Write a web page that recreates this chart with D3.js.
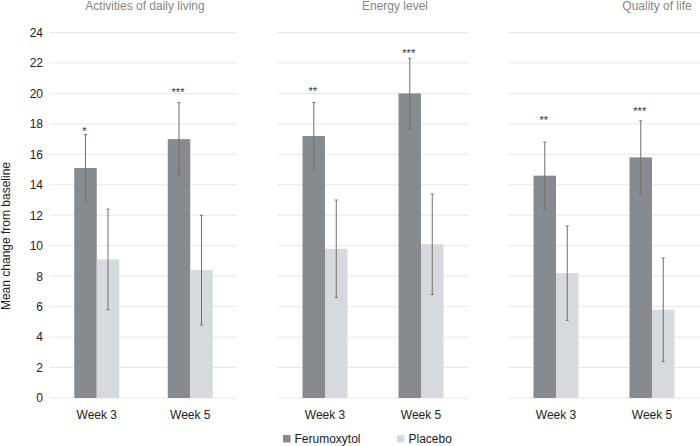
<!DOCTYPE html>
<html>
<head>
<meta charset="utf-8">
<script src="https://cdn.jsdelivr.net/npm/d3@7"></script>
<style>
  html, body { margin: 0; padding: 0; background: #fff; }
  svg { display: block; font-family: "Liberation Sans", Arial, sans-serif; }
</style>
</head>
<body>
<svg id="chart" width="700" height="446"></svg>
<script>
// ---- data ----
const panels = ["Activities of daily living", "Energy level", "Quality of life"];
const weeks = ["Week 3", "Week 5"];
const series = ["Ferumoxytol", "Placebo"];
const ferumoxytol = [[15.1, 17.0], [17.2, 20.0], [14.6, 15.8]];
const ferumoxytolErr = [[2.2, 2.4], [2.2, 2.3], [2.2, 2.4]];
const placebo = [[9.1, 8.4], [9.8, 10.1], [8.2, 5.8]];
const placeboErr = [[3.3, 3.6], [3.2, 3.3], [3.1, 3.4]];
const significance = [["*", "***"], ["**", "***"], ["**", "***"]];
const significanceLevel = [[17.3, 19.8], [19.9, 22.4], [18.0, 18.6]];
const yTicks = [0, 2, 4, 6, 8, 10, 12, 14, 16, 18, 20, 22, 24];

// ---- layout ----
const svg = d3.select("#chart");
const colors = { "Ferumoxytol": "#878b90", "Placebo": "#d6d9dd" };
const panelRanges = [[50, 237], [277, 469], [508, 700]];
const titleX = [145, 395, 657];
const barW = 22.5;

const y = d3.scaleLinear().domain([0, 24]).range([398, 32.5]);

const values = { "Ferumoxytol": ferumoxytol, "Placebo": placebo };
const errors = { "Ferumoxytol": ferumoxytolErr, "Placebo": placeboErr };

panels.forEach((title, pi) => {
  const g = svg.append("g");
  const [x0, x1] = panelRanges[pi];

  // gridlines
  g.selectAll("line.grid").data(yTicks).join("line")
    .attr("x1", x0).attr("x2", x1)
    .attr("y1", d => y(d)).attr("y2", d => y(d))
    .attr("stroke", "#e8e8e8").attr("stroke-width", 1);

  const x = d3.scaleBand().domain(weeks).range([x0, x1]);
  const xs = d3.scaleBand().domain(series)
    .range([x.bandwidth() / 2 - barW, x.bandwidth() / 2 + barW]);

  weeks.forEach((wk, wi) => {
    const wg = g.append("g").attr("transform", `translate(${x(wk)},0)`);
    series.forEach(s => {
      const v = values[s][pi][wi];
      const e = errors[s][pi][wi];
      wg.append("rect")
        .attr("x", xs(s)).attr("width", xs.bandwidth())
        .attr("y", y(v)).attr("height", y(0) - y(v))
        .attr("fill", colors[s]);
      const cx = xs(s) + xs.bandwidth() / 2;
      wg.append("line")
        .attr("x1", cx).attr("x2", cx)
        .attr("y1", y(v + e)).attr("y2", y(v - e))
        .attr("stroke", "#707070").attr("stroke-width", 1);
      [v + e, v - e].forEach(t => {
        wg.append("line")
          .attr("x1", cx - 1.5).attr("x2", cx + 1.5)
          .attr("y1", y(t)).attr("y2", y(t))
          .attr("stroke", "#707070").attr("stroke-width", 1);
      });
    });
    // significance
    wg.append("text")
      .attr("x", xs("Ferumoxytol") + xs.bandwidth() / 2 - 1)
      .attr("y", y(significanceLevel[pi][wi]))
      .attr("text-anchor", "middle")
      .attr("font-size", 11)
      .attr("fill", "#333")
      .text(significance[pi][wi]);
  });

  // x axis labels
  const xAxis = d3.axisBottom(x).tickSize(0).tickPadding(0);
  const xa = g.append("g").attr("transform", "translate(0,419)").call(xAxis);
  xa.select(".domain").remove();
  xa.selectAll("text").attr("dy", 0).attr("font-size", 12).attr("fill", "#222")
    .attr("font-family", "'Liberation Sans', Arial, sans-serif");

  // title
  g.append("text")
    .attr("x", titleX[pi]).attr("y", 10)
    .attr("text-anchor", "middle")
    .attr("font-size", 12).attr("fill", "#858585")
    .text(title);
});

// y axis labels
const yAxis = d3.axisLeft(y).tickValues(yTicks).tickSize(0).tickPadding(0);
const ya = svg.append("g").attr("transform", "translate(43,0)").call(yAxis);
ya.select(".domain").remove();
ya.selectAll("text").attr("font-size", 12).attr("fill", "#222")
  .attr("font-family", "'Liberation Sans', Arial, sans-serif");

// y axis title
svg.append("text")
  .attr("transform", "translate(10,236) rotate(-90)")
  .attr("text-anchor", "middle")
  .attr("font-size", 12).attr("fill", "#222")
  .text("Mean change from baseline");

// legend
const legendX = [283, 397];
series.forEach((s, i) => {
  svg.append("rect")
    .attr("x", legendX[i]).attr("y", 435)
    .attr("width", 7.5).attr("height", 7.5)
    .attr("fill", colors[s]);
  svg.append("text")
    .attr("x", legendX[i] + 11.5).attr("y", 443)
    .attr("font-size", 12).attr("fill", "#222")
    .text(s);
});
</script>
</body>
</html>
